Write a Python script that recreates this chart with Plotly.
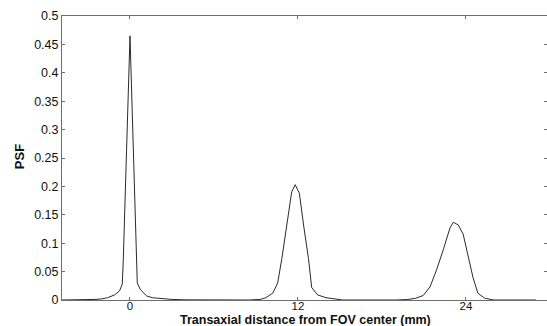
import plotly.graph_objects as go

# Transaxial distance (mm) and PSF values
x_mm = [-4.9, -3.5, -2.5, -2.0, -1.6, -1.1, -0.75, -0.55, -0.48, 0.0, 0.45, 0.52, 0.75, 1.2, 1.6, 2.3, 3.0, 4.0, 5.0,
        8.5, 9.3, 9.7, 10.2, 10.55, 10.85, 11.2, 11.55, 11.8, 12.1, 12.4, 12.75, 12.98, 13.4, 14.0, 14.5, 15.2,
        19.0, 19.8, 20.4, 20.95, 21.43, 21.9, 22.4, 22.86, 23.1, 23.45, 23.8, 24.15, 24.5, 24.85, 25.35, 26.0, 29.0]
psf = [0.0, 0.0003, 0.001, 0.002, 0.004, 0.009, 0.016, 0.028, 0.07, 0.465, 0.07, 0.03, 0.018, 0.007, 0.004, 0.002, 0.001, 0.0003, 0.0,
       0.0, 0.001, 0.004, 0.012, 0.03, 0.073, 0.132, 0.19, 0.203, 0.188, 0.132, 0.073, 0.022, 0.009, 0.004, 0.002, 0.0,
       0.0, 0.0008, 0.003, 0.008, 0.023, 0.053, 0.09, 0.127, 0.137, 0.132, 0.116, 0.078, 0.04, 0.012, 0.003, 0.0, 0.0]

x_ticks = [0, 12, 24]
y_ticks = [0, 0.05, 0.1, 0.15, 0.2, 0.25, 0.3, 0.35, 0.4, 0.45, 0.5]
y_tick_text = ["0", "0.05", "0.1", "0.15", "0.2", "0.25", "0.3", "0.35", "0.4", "0.45", "0.5"]

x_title = "Transaxial distance from FOV center (mm)"
y_title = "PSF"

FONT = "Liberation Sans, Arial, sans-serif"

fig = go.Figure()
fig.add_trace(go.Scatter(x=x_mm, y=psf, mode="lines",
                         line=dict(color="#2a2a2a", width=1), showlegend=False))

axis_common = dict(showline=True, linecolor="#6e6e6e", linewidth=1, mirror="ticks",
                   ticks="inside", ticklen=3, tickcolor="#6e6e6e", showgrid=False,
                   zeroline=False, automargin=False)

fig.update_xaxes(range=[-4.857, 29.79], tickvals=x_ticks, ticktext=[str(v) for v in x_ticks],
                 ticklabelstandoff=-5, tickfont=dict(family=FONT, size=11.5, color="#111"),
                 **axis_common)
fig.update_yaxes(range=[0, 0.5], tickvals=y_ticks, ticktext=y_tick_text,
                 tickfont=dict(family=FONT, size=12.5, color="#111"), **axis_common)

fig.add_annotation(text="<b>" + x_title + "</b>", xref="paper", yref="paper", x=0.502, y=-0.072,
                   xanchor="center", yanchor="middle", showarrow=False,
                   font=dict(family=FONT, size=12.5, color="#111"))
fig.add_annotation(text="<b>" + y_title + "</b>", xref="paper", yref="paper", x=-0.086, y=0.504,
                   xanchor="center", yanchor="middle", textangle=-90, showarrow=False,
                   font=dict(family=FONT, size=13, color="#111"))

fig.update_layout(width=547, height=326, margin=dict(l=62, r=0, t=16, b=26),
                  plot_bgcolor="white", paper_bgcolor="white")

fig.write_html("out.html", config={"displayModeBar": False},
               post_script="document.body.style.margin='0px';document.body.style.overflow='hidden';")
